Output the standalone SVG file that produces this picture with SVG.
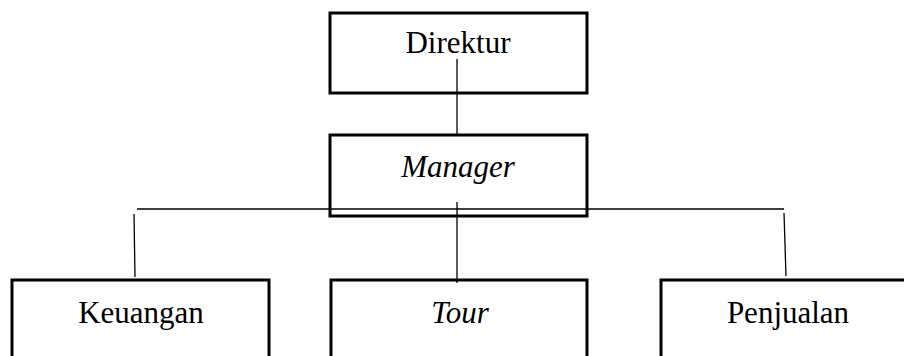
<svg xmlns="http://www.w3.org/2000/svg" width="904" height="356" viewBox="0 0 904 356">
<style>
.box{fill:#fff;stroke:#000;stroke-width:3}
.lbl{font-family:"Liberation Serif","Times New Roman",serif;font-size:31px;fill:#000;text-anchor:middle}
.it{font-style:italic}
.con line{stroke:#000;stroke-width:1.3}
</style>
<rect width="904" height="356" fill="#fff"/>
<g id="direktur">
<rect class="box" x="330" y="13" width="257" height="80"/>
<text class="lbl" x="458" y="53">Direktur</text>
</g>
<g id="manager">
<rect class="box" x="330" y="135" width="257" height="81"/>
<text class="lbl it" x="458" y="177">Manager</text>
</g>
<g id="keuangan">
<rect class="box" x="12" y="280" width="257" height="120"/>
<text class="lbl" x="141" y="323">Keuangan</text>
</g>
<g id="tour">
<rect class="box" x="331" y="280" width="256" height="120"/>
<text class="lbl it" x="460" y="323">Tour</text>
</g>
<g id="penjualan">
<rect class="box" x="661" y="280" width="300" height="120"/>
<text class="lbl" x="788" y="323">Penjualan</text>
</g>
<g id="connectors" class="con">
<line x1="457" y1="59" x2="457" y2="134"/>
<line x1="137" y1="209" x2="784" y2="209"/>
<line x1="457" y1="202" x2="457" y2="283"/>
<line x1="134" y1="214" x2="135" y2="277"/>
<line x1="784" y1="213" x2="786" y2="276"/>
</g>
</svg>
